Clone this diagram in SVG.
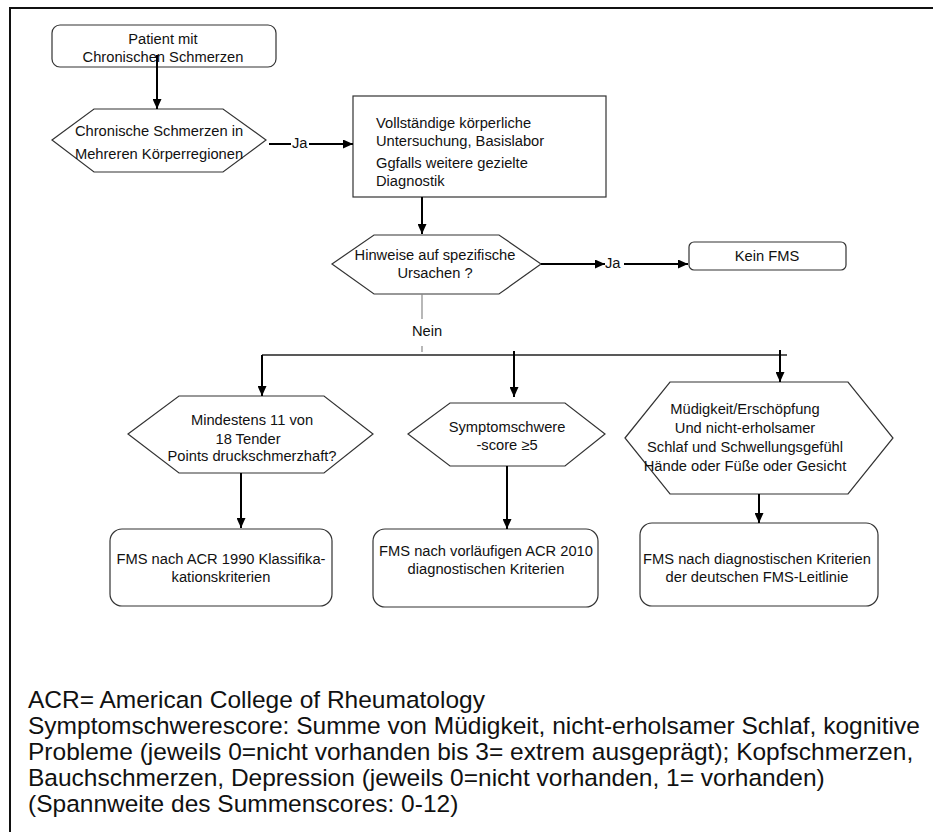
<svg xmlns="http://www.w3.org/2000/svg" width="933" height="832" viewBox="0 0 933 832">
<defs>
<marker id="ah" markerUnits="userSpaceOnUse" markerWidth="11" markerHeight="9" refX="10" refY="4.5" orient="auto">
<path d="M0,0 L10,4.5 L0,9 z" fill="#000"/>
</marker>
<style>
.n{fill:#fff;stroke:#333;stroke-width:1.2}
.t{font-family:"Liberation Sans",Arial,sans-serif;font-size:14.7px;fill:#111;text-anchor:middle}
.tl{font-family:"Liberation Sans",Arial,sans-serif;font-size:14.7px;fill:#111}
.c{stroke:#000;stroke-width:2;fill:none}
.ca{stroke:#000;stroke-width:2;fill:none;marker-end:url(#ah)}
.g{stroke:#888;stroke-width:1.2;fill:none}
.f{font-family:"Liberation Sans",Arial,sans-serif;font-size:24.5px;fill:#111}
</style>
</defs>
<rect x="10" y="8" width="940" height="840" fill="#fff" stroke="#111" stroke-width="2"/>

<g id="patient">
<rect class="n" x="52" y="25" width="224" height="42" rx="8"/>
<text class="t" x="163" y="44">Patient mit</text>
<text class="t" x="163" y="62">Chronischen Schmerzen</text>
</g>

<g id="chron">
<polygon class="n" points="52,140 94,109 223,109 266,140 223,172 94,172"/>
<text class="t" x="159" y="136">Chronische Schmerzen in</text>
<text class="t" x="159" y="159">Mehreren Körperregionen</text>
</g>

<g id="unters">
<rect class="n" x="353" y="96" width="253" height="101"/>
<text class="tl" x="376" y="128">Vollständige körperliche</text>
<text class="tl" x="376" y="146">Untersuchung, Basislabor</text>
<text class="tl" x="376" y="168">Ggfalls weitere gezielte</text>
<text class="tl" x="376" y="186">Diagnostik</text>
</g>

<g id="hinweise">
<polygon class="n" points="332,264 374,235 499,235 541,264 499,294 374,294"/>
<text class="t" x="435" y="260">Hinweise auf spezifische</text>
<text class="t" x="435" y="278">Ursachen ?</text>
</g>

<g id="keinfms">
<rect class="n" x="689" y="242" width="157" height="28" rx="5"/>
<text class="t" x="767" y="261">Kein FMS</text>
</g>

<g id="tender">
<polygon class="n" points="128,434 179,396 324,396 373,434 324,473 179,473"/>
<text class="t" x="252" y="425">Mindestens 11 von</text>
<text class="t" x="248" y="444">18 Tender</text>
<text class="t" x="252" y="461">Points druckschmerzhaft?</text>
</g>

<g id="symptom">
<polygon class="n" points="408,434 450,403 565,403 605,434 565,466 450,466"/>
<text class="t" x="507" y="432">Symptomschwere</text>
<text class="t" x="507" y="450">-score ≥5</text>
</g>

<g id="muedigkeit">
<polygon class="n" points="625,438 670,382 848,382 893,438 848,494 670,494"/>
<text class="t" x="745" y="414">Müdigkeit/Erschöpfung</text>
<text class="t" x="745" y="433">Und nicht-erholsamer</text>
<text class="t" x="745" y="452">Schlaf und Schwellungsgefühl</text>
<text class="t" x="745" y="471">Hände oder Füße oder Gesicht</text>
</g>

<g id="acr1990">
<rect class="n" x="110" y="529" width="222" height="77" rx="12"/>
<text class="t" x="221" y="564">FMS nach ACR 1990 Klassifika-</text>
<text class="t" x="221" y="582">kationskriterien</text>
</g>

<g id="acr2010">
<rect class="n" x="373" y="529" width="225" height="78" rx="12"/>
<text class="t" x="486" y="556">FMS nach vorläufigen ACR 2010</text>
<text class="t" x="486" y="574">diagnostischen Kriterien</text>
</g>

<g id="leitlinie">
<rect class="n" x="640" y="523" width="238" height="83" rx="12"/>
<text class="t" x="757" y="564">FMS nach diagnostischen Kriterien</text>
<text class="t" x="757" y="582">der deutschen FMS-Leitlinie</text>
</g>

<g id="connectors">
<line class="ca" x1="157" y1="55" x2="157" y2="109"/>
<line class="c" x1="269" y1="144" x2="291" y2="144" stroke-width="1.5"/>
<text class="tl" x="292" y="148">Ja</text>
<line class="ca" x1="309" y1="144" x2="353" y2="144"/>
<line class="ca" x1="422" y1="197" x2="422" y2="234"/>
<line class="ca" x1="541" y1="264" x2="605" y2="264"/>
<text class="tl" x="605" y="268">Ja</text>
<line class="ca" x1="624" y1="264" x2="688" y2="264"/>
<line class="g" x1="422" y1="294" x2="422" y2="319"/>
<text class="t" x="427" y="336">Nein</text>
<line class="g" x1="422" y1="346" x2="422" y2="352"/>
<line x1="262" y1="355" x2="787" y2="355" stroke="#222" stroke-width="1.5"/>
<line class="ca" x1="262" y1="355" x2="262" y2="396"/>
<line class="ca" x1="514" y1="351" x2="514" y2="397"/>
<line class="ca" x1="780" y1="350" x2="780" y2="382"/>
<line class="ca" x1="241" y1="473" x2="241" y2="528"/>
<line class="ca" x1="507" y1="466" x2="507" y2="529"/>
<line class="ca" x1="759" y1="494" x2="759" y2="523"/>
</g>

<g id="footer">
<text class="f" x="28" y="708">ACR= American College of Rheumatology</text>
<text class="f" x="28" y="734">Symptomschwerescore: Summe von Müdigkeit, nicht-erholsamer Schlaf, kognitive</text>
<text class="f" x="28" y="760">Probleme (jeweils 0=nicht vorhanden bis 3= extrem ausgeprägt); Kopfschmerzen,</text>
<text class="f" x="28" y="786">Bauchschmerzen, Depression (jeweils 0=nicht vorhanden, 1= vorhanden)</text>
<text class="f" x="28" y="812">(Spannweite des Summenscores: 0-12)</text>
</g>
</svg>
